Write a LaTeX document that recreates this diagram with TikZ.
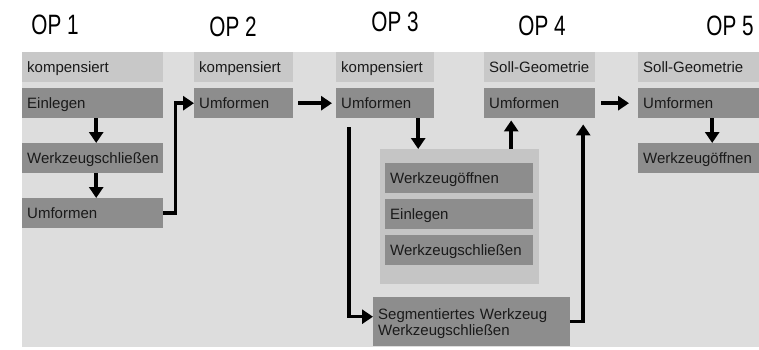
\documentclass[tikz,border=0pt]{standalone}
\usepackage{fontspec}
\setmainfont{Liberation Sans}
\newfontfamily\narrowfont[FakeStretch=0.74]{Liberation Sans}
\usetikzlibrary{arrows.meta}
\definecolor{backgray}{HTML}{DDDDDD}
\definecolor{lightgray}{HTML}{C8C8C8}
\definecolor{darkgray}{HTML}{8D8D8D}
\definecolor{groupgray}{HTML}{C5C5C5}
\definecolor{textgray}{HTML}{1A1A1A}
\begin{document}
\begin{tikzpicture}[x=1pt,y=-1pt,
  box/.style={anchor=north west,minimum height=30pt,inner xsep=5pt,inner ysep=0pt,
    text width=#1,align=left,text height=11pt,text depth=0pt,text=textgray,
    font=\fontsize{15}{16}\selectfont},
  soft/.style={box=#1,fill=lightgray},
  hard/.style={box=#1,fill=darkgray},
  oplabel/.style={font=\narrowfont\fontsize{28}{30}\selectfont,inner sep=0pt},
  flow/.style={line width=3.5pt,-{Triangle[length=11pt,width=14pt]}}]
  \useasboundingbox (0,0) rectangle (759,349);
  \fill[backgray] (22,52) rectangle (759,347);
  % column headings
  \node[oplabel] (op1) at (55,25) {OP 1};
  \node[oplabel] (op2) at (233,27) {OP 2};
  \node[oplabel] (op3) at (395,22) {OP 3};
  \node[oplabel] (op4) at (542,26) {OP 4};
  \node[oplabel] (op5) at (730,26) {OP 5};
  % OP 1
  \node[soft=131pt] (k1) at (22,52) {kompensiert};
  \node[hard=131pt] (e1) at (22,88) {Einlegen};
  \node[hard=131pt] (s1) at (22,143) {Werkzeugschließen};
  \node[hard=131pt] (u1) at (22,198) {Umformen};
  % OP 2
  \node[soft=89pt] (k2) at (194,52) {kompensiert};
  \node[hard=89pt] (u2) at (194,88) {Umformen};
  % OP 3
  \node[soft=88pt] (k3) at (336,52) {kompensiert};
  \node[hard=88pt] (u3) at (336,88) {Umformen};
  \fill[groupgray] (380,149) rectangle (539,284);
  \node[box=138pt,minimum height=0pt,fill=none,text height=0pt,inner xsep=0pt] (grp) at (380,149) {};
  \node[hard=138pt] (o3) at (385,163) {Werkzeugöffnen};
  \node[hard=138pt] (e3) at (385,199) {Einlegen};
  \node[hard=138pt] (s3) at (385,235) {Werkzeugschließen};
  \node[hard=187pt,minimum height=49pt,text height=11pt,text depth=16pt] (seg) at (373,297)
    {Segmentiertes Werkzeug\\Werkzeugschließen};
  % OP 4
  \node[soft=101pt] (k4) at (484,52) {Soll-Geometrie};
  \node[hard=101pt] (u4) at (484,88) {Umformen};
  % OP 5
  \node[soft=111pt] (k5) at (638,52) {Soll-Geometrie};
  \node[hard=111pt] (u5) at (638,88) {Umformen};
  \node[hard=111pt] (o5) at (638,143) {Werkzeugöffnen};
  % arrows
  \draw[flow] ([xshift=3.5pt]e1.south) -- ([xshift=3.5pt]s1.north);
  \draw[flow] ([xshift=3.5pt]s1.south) -- ([xshift=3.5pt]u1.north);
  \draw[flow] (u1.east) -- ++(12,0) |- (u2.west);
  \draw[flow] ([xshift=5pt]u2.east) -- ([xshift=-4pt]u3.west);
  \draw[flow] ([xshift=-36pt,yshift=-9pt]u3.south) |- ([yshift=5pt]seg.west);
  \draw[flow] ([xshift=33pt]u3.south) -- ([xshift=33pt]u3.south |- grp.north);
  \draw[flow] ([xshift=-28.5pt]u4.south |- grp.north) -- ([xshift=-28.5pt,yshift=-2pt]u4.south);
  \draw[flow] (seg.east) -| ([xshift=43.5pt,yshift=-6pt]u4.south);
  \draw[flow] ([xshift=6pt]u4.east) -- ([xshift=-9pt]u5.west);
  \draw[flow] ([xshift=13.5pt]u5.south) -- ([xshift=13.5pt]o5.north);
\end{tikzpicture}
\end{document}
